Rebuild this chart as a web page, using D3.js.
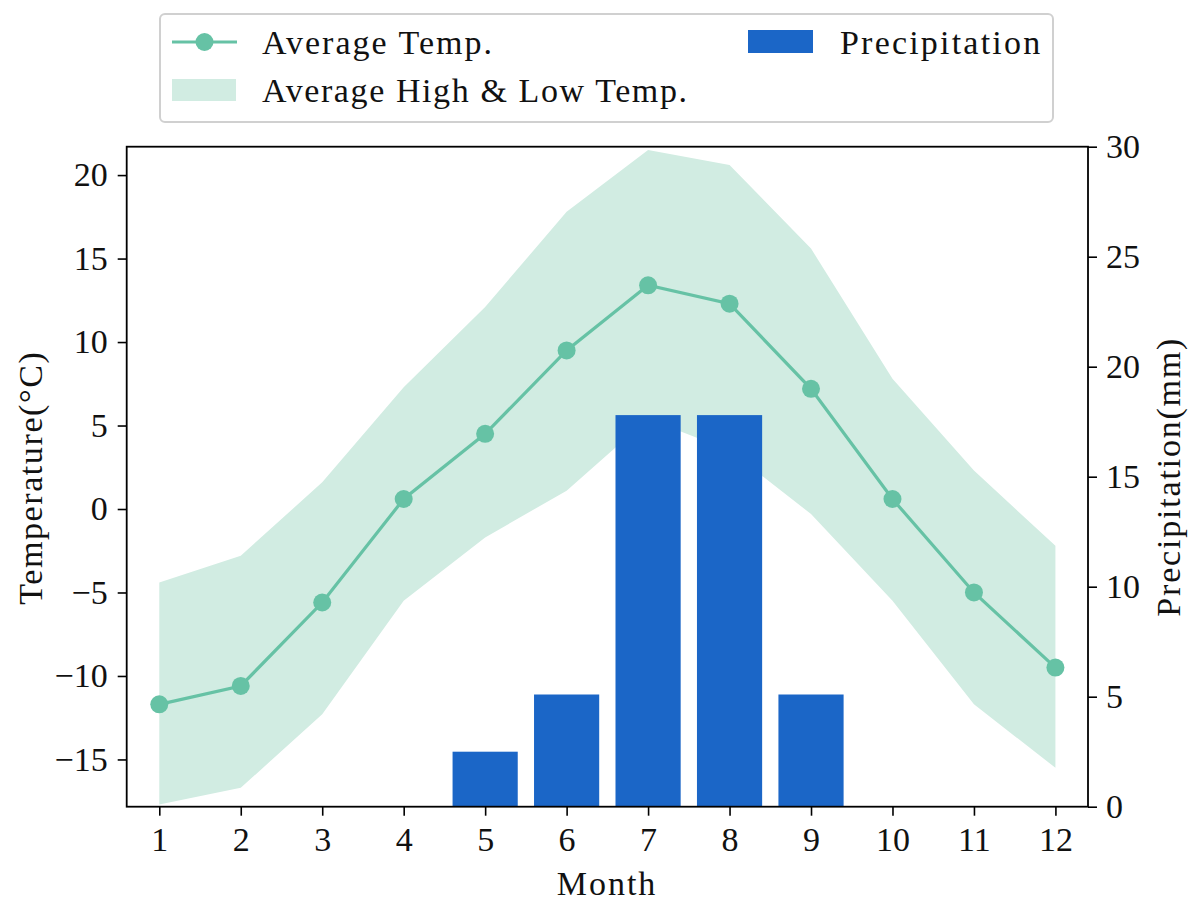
<!DOCTYPE html>
<html>
<head>
<meta charset="utf-8">
<script src="https://cdn.jsdelivr.net/npm/d3@7"></script>
<style>
  html, body { margin: 0; padding: 0; background: #fff; }
  svg text { font-family: "Liberation Serif", "DejaVu Serif", serif; fill: #111; }
</style>
</head>
<body>
<svg id="chart" width="1200" height="908"></svg>
<script>
// ---- data ----
const months = [1, 2, 3, 4, 5, 6, 7, 8, 9, 10, 11, 12];
const avgTemp = [-11.7, -10.6, -5.6, 0.6, 4.5, 9.5, 13.4, 12.3, 7.2, 0.6, -5.0, -9.5];
const highTemp = [-4.4, -2.8, 1.6, 7.3, 12.1, 17.8, 21.5, 20.6, 15.6, 7.8, 2.3, -2.2];
const lowTemp = [-17.7, -16.7, -12.3, -5.5, -1.7, 1.1, 5.4, 3.5, -0.3, -5.5, -11.7, -15.5];
const precip = [0, 0, 0, 0, 2.5, 5.1, 17.8, 17.8, 5.1, 0, 0, 0];
const tempTicks = [-15, -10, -5, 0, 5, 10, 15, 20];
const precipTicks = [0, 5, 10, 15, 20, 25, 30];
const legendLabels = ["Average Temp.", "Average High & Low Temp.", "Precipitation"];

// ---- style ----
const lineColor = "#66c2a5";
const bandColor = "#d1ece2";
const barColor = "#1b66c7";
const fs = 34;

const svg = d3.select("#chart");
const L = 126.7, R = 1088, T = 146.7, B = 806.7;

const x = d3.scaleLinear().domain([0.6, 12.4]).range([L, R]);
const yT = d3.scaleLinear().domain([-17.83, 21.7]).range([B, T]);
const yP = d3.scaleLinear().domain([0, 30]).range([B, T]);

svg.append("clipPath").attr("id", "plotclip")
  .append("rect").attr("x", L).attr("y", T).attr("width", R - L).attr("height", B - T);

const plot = svg.append("g").attr("clip-path", "url(#plotclip)");

const bandData = months.map((m, i) => ({ m, hi: highTemp[i], lo: lowTemp[i] }));
plot.append("path")
  .datum(bandData)
  .attr("fill", bandColor)
  .attr("d", d3.area().x(d => x(d.m)).y0(d => yT(d.lo)).y1(d => yT(d.hi)));

const barW = x(0.8) - x(0);
plot.selectAll("rect.bar")
  .data(months.map((m, i) => ({ m, v: precip[i] })).filter(d => d.v > 0))
  .join("rect")
  .attr("class", "bar")
  .attr("x", d => x(d.m) - barW / 2)
  .attr("width", barW)
  .attr("y", d => yP(d.v))
  .attr("height", d => yP(0) - yP(d.v))
  .attr("fill", barColor);

const lineData = months.map((m, i) => ({ m, v: avgTemp[i] }));
plot.append("path")
  .datum(lineData)
  .attr("fill", "none")
  .attr("stroke", lineColor)
  .attr("stroke-width", 3.2)
  .attr("d", d3.line().x(d => x(d.m)).y(d => yT(d.v)));
plot.selectAll("circle.pt")
  .data(lineData)
  .join("circle")
  .attr("class", "pt")
  .attr("cx", d => x(d.m))
  .attr("cy", d => yT(d.v))
  .attr("r", 9)
  .attr("fill", lineColor);

// ---- axes ----
function styleAxis(g) {
  g.select(".domain").remove();
  g.selectAll(".tick line").attr("stroke", "#000").attr("stroke-width", 1.6);
  g.selectAll(".tick text").attr("font-size", fs).attr("font-family", "Liberation Serif, serif").attr("fill", "#111");
}

svg.append("g")
  .attr("transform", `translate(0,${B})`)
  .call(d3.axisBottom(x).tickValues(months).tickFormat(d3.format("d")).tickSizeInner(9).tickSizeOuter(0).tickPadding(11))
  .call(styleAxis);

svg.append("g")
  .attr("transform", `translate(${L},0)`)
  .call(d3.axisLeft(yT).tickValues(tempTicks).tickFormat(d3.format("d")).tickSizeInner(9).tickSizeOuter(0).tickPadding(10))
  .call(styleAxis);

svg.append("g")
  .attr("transform", `translate(${R},0)`)
  .call(d3.axisRight(yP).tickValues(precipTicks).tickFormat(d3.format("d")).tickSizeInner(9).tickSizeOuter(0).tickPadding(9))
  .call(styleAxis);

// frame
svg.append("rect")
  .attr("x", L).attr("y", T).attr("width", R - L).attr("height", B - T)
  .attr("fill", "none").attr("stroke", "#000").attr("stroke-width", 1.8);

// axis labels
svg.append("text")
  .attr("x", 607).attr("y", 895)
  .attr("text-anchor", "middle").attr("font-size", fs).attr("letter-spacing", 2.0)
  .text("Month");
svg.append("text")
  .attr("transform", `translate(42,${(T + B) / 2 + 1}) rotate(-90)`)
  .attr("text-anchor", "middle").attr("font-size", fs).attr("letter-spacing", 1.6)
  .text("Temperature(°C)");
svg.append("text")
  .attr("transform", `translate(1180,${(T + B) / 2}) rotate(-90)`)
  .attr("text-anchor", "middle").attr("font-size", fs).attr("letter-spacing", 1.8)
  .text("Precipitation(mm)");

// ---- legend ----
const lg = svg.append("g");
lg.append("rect")
  .attr("x", 160).attr("y", 14).attr("width", 893).attr("height", 108)
  .attr("rx", 5).attr("fill", "#fff").attr("stroke", "#d0d0d0").attr("stroke-width", 2);

lg.append("line").attr("x1", 172).attr("x2", 237).attr("y1", 42).attr("y2", 42)
  .attr("stroke", lineColor).attr("stroke-width", 3.2);
lg.append("circle").attr("cx", 204.5).attr("cy", 42).attr("r", 9).attr("fill", lineColor);
lg.append("text").attr("x", 262).attr("y", 54).attr("font-size", fs).attr("letter-spacing", 2.0).text(legendLabels[0]);

lg.append("rect").attr("x", 172).attr("y", 79).attr("width", 64).attr("height", 22).attr("fill", bandColor);
lg.append("text").attr("x", 262).attr("y", 102).attr("font-size", fs).attr("letter-spacing", 1.6).text(legendLabels[1]);

lg.append("rect").attr("x", 748).attr("y", 30).attr("width", 65).attr("height", 23).attr("fill", barColor);
lg.append("text").attr("x", 840).attr("y", 54).attr("font-size", fs).attr("letter-spacing", 2.2).text(legendLabels[2]);
</script>
</body>
</html>
